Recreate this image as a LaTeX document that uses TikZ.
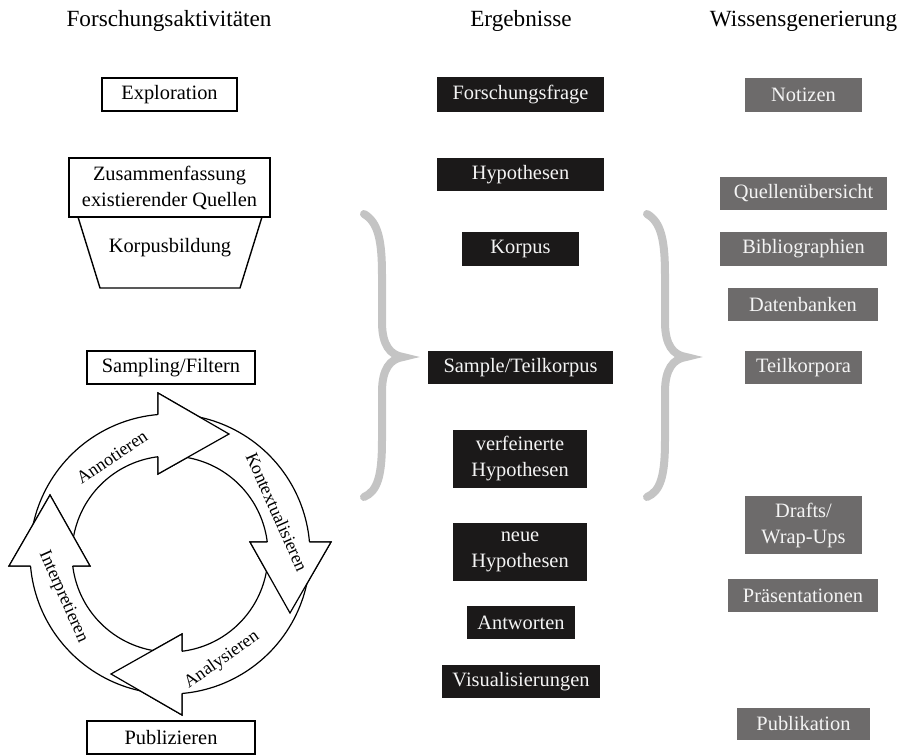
\documentclass[tikz,border=0pt]{standalone}
\usepackage{fontspec}
\setmainfont{Liberation Serif}
\definecolor{resblack}{HTML}{1B1919}
\definecolor{wisgray}{HTML}{6D6B6B}
\definecolor{boxtext}{HTML}{F4F4F4}
\definecolor{bracegray}{HTML}{C4C4C4}
\begin{document}
\begin{tikzpicture}[x=0.5pt,y=-0.5pt,
  hdr/.style={font=\fontsize{11.6}{14}\selectfont, inner sep=0pt},
  base/.style={font=\fontsize{10.2}{13}\selectfont, inner sep=0pt, align=center, minimum height=16.5pt},
  actbox/.style={base, draw, line width=0.7pt, fill=white},
  resbox/.style={base, fill=resblack, text=boxtext},
  wisbox/.style={base, fill=wisgray, text=boxtext},
  band/.style={draw, line width=0.6pt, fill=white, line join=miter},
  cyclab/.style={font=\fontsize{9}{11}\selectfont, inner sep=0pt},
  brace/.style={draw=bracegray, line width=4pt, line cap=round}
]
\useasboundingbox (0,0) rectangle (906,755);

% headers
\node[hdr] (h1) at (169,21) {Forschungsaktivitäten};
\node[hdr] (h2) at (521,21) {Ergebnisse};
\node[hdr] (h3) at (803.5,21) {Wissensgenerierung};

% left column
\node[actbox, minimum width=67.5pt] (expl) at (169.5,94.5) {Exploration};
\node[actbox, minimum width=100.5pt, minimum height=29.5pt] (zus) at (169.5,187.5) {Zusammenfassung\\existierender Quellen};
\coordinate (tl) at (78,217);
\coordinate (bl) at (100,288);
\coordinate (br) at (240,288);
\coordinate (tr) at (262,217);
\draw[line width=0.7pt] (tl) -- (bl) -- (br) -- (tr);
\node[base] (korp) at (170,248) {Korpusbildung};
\node[actbox, minimum width=84pt] (samp) at (171,367.5) {Sampling/Filtern};
\node[actbox, minimum width=84pt] (publ) at (171,737.5) {Publizieren};

% middle column
\node[resbox, minimum width=83.5pt, minimum height=17.5pt] (r1) at (520.5,94.5) {Forschungsfrage};
\node[resbox, minimum width=83.5pt] (r2) at (520.5,174.5) {Hypothesen};
\node[resbox, minimum width=58.5pt, minimum height=17pt] (r3) at (520.5,249) {Korpus};
\node[resbox, minimum width=92.5pt] (r4) at (520.5,367.5) {Sample/Teilkorpus};
\node[resbox, minimum width=67pt, minimum height=29pt] (r5) at (520,459) {verfeinerte\\Hypothesen};
\node[resbox, minimum width=67pt, minimum height=29pt] (r6) at (520,552) {neue\\Hypothesen};
\node[resbox, minimum width=54pt] (r7) at (521,622.5) {Antworten};
\node[resbox, minimum width=79pt] (r8) at (521,681.5) {Visualisierungen};

% right column
\node[wisbox, minimum width=58.5pt, minimum height=17pt] (w1) at (803.5,95) {Notizen};
\node[wisbox, minimum width=83.5pt] (w2) at (803.5,193.5) {Quellenübersicht};
\node[wisbox, minimum width=83.5pt, minimum height=17pt] (w3) at (803.5,249) {Bibliographien};
\node[wisbox, minimum width=75pt] (w4) at (803,304.5) {Datenbanken};
\node[wisbox, minimum width=58.5pt] (w5) at (803.5,367.5) {Teilkorpora};
\node[wisbox, minimum width=58.5pt, minimum height=29pt] (w6) at (803.5,525) {Drafts/\\Wrap-Ups};
\node[wisbox, minimum width=75pt] (w7) at (803,595.5) {Präsentationen};
\node[wisbox, minimum width=66.5pt, minimum height=16pt] (w8) at (803.5,724) {Publikation};

% braces
\draw[brace] (364,214) .. controls (378,222) and (382,240) .. (382,275) -- (382,322)
  .. controls (382,345) and (390,355) .. (403,357)
  .. controls (390,359) and (382,369) .. (382,392) -- (382,440)
  .. controls (382,475) and (378,491) .. (364,497);
\begin{scope}[shift={(283,0)}]
\draw[brace] (364,214) .. controls (378,222) and (382,240) .. (382,275) -- (382,322)
  .. controls (382,345) and (390,355) .. (403,357)
  .. controls (390,359) and (382,369) .. (382,392) -- (382,440)
  .. controls (382,475) and (378,491) .. (364,497);
\end{scope}

% cycle: bands
\foreach \k in {0,1,2,3} {
  \begin{scope}[rotate around={-90*\k:(170,554)}]
    \draw[band] plot[domain=172:94.9, samples=40] ({170+140*cos(\x)},{554-140*sin(\x)})
      -- (158,393) -- (229,434) -- (158,474)
      -- plot[domain=97:172, samples=40] ({170+98*cos(\x)},{554-98*sin(\x)}) -- cycle;
  \end{scope}
}
% cycle: heads on top
\foreach \k in {0,1,2,3} {
  \begin{scope}[rotate around={-90*\k:(170,554)}]
    \draw[band] ({170+140*cos(94.9)},{554-140*sin(94.9)}) -- (158,393) -- (229,434) -- (158,474)
      -- ({170+98*cos(97)},{554-98*sin(97)});
  \end{scope}
}
\node[cyclab, rotate=34] (lab1) at (112,457) {Annotieren};
\node[cyclab, rotate=-66] (lab2) at (277,512) {Kontextualisieren};
\node[cyclab, rotate=35] (lab3) at (222,660) {Analysieren};
\node[cyclab, rotate=-66] (lab4) at (63,597) {Interpretieren};
\end{tikzpicture}
\end{document}
